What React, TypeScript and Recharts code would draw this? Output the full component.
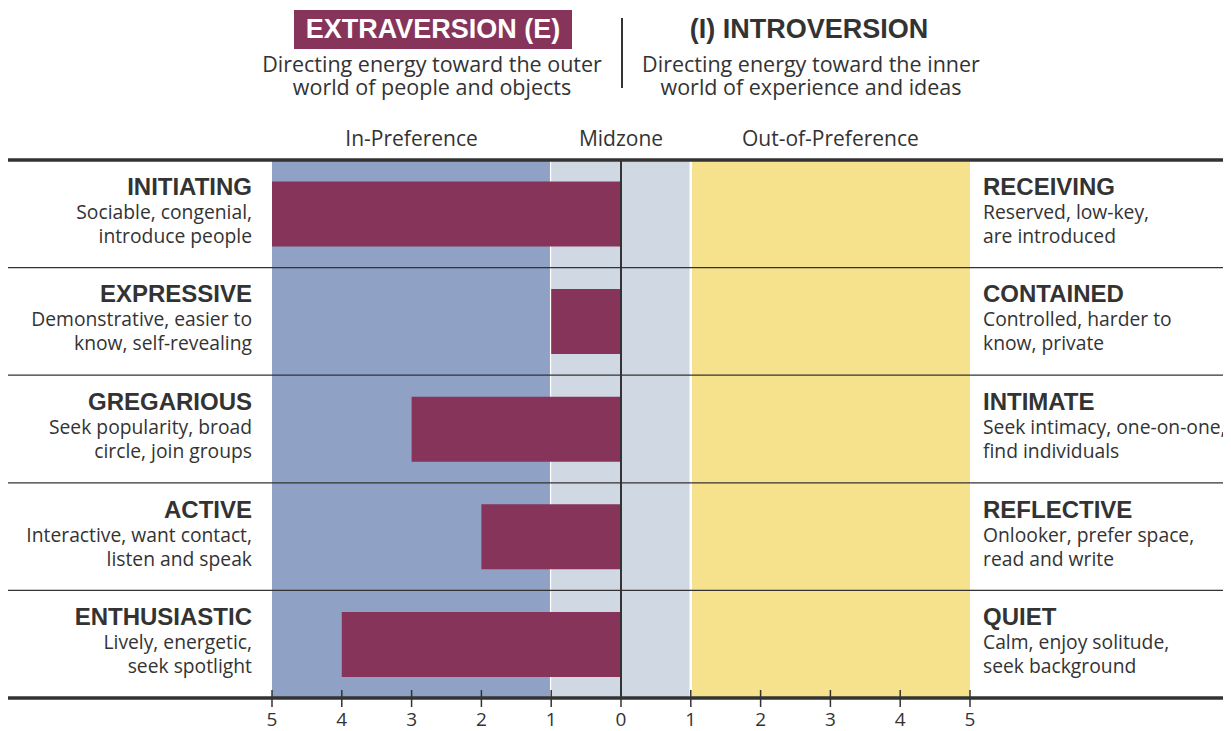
import { BarChart, Bar, XAxis, YAxis, ReferenceArea, ReferenceLine } from 'recharts'

const categories = ['initiating', 'expressive', 'gregarious', 'active', 'enthusiastic']
const leftTitles = ['INITIATING', 'EXPRESSIVE', 'GREGARIOUS', 'ACTIVE', 'ENTHUSIASTIC']
const leftLines = [
  ['Sociable, congenial,', 'introduce people'],
  ['Demonstrative, easier to', 'know, self-revealing'],
  ['Seek popularity, broad', 'circle, join groups'],
  ['Interactive, want contact,', 'listen and speak'],
  ['Lively, energetic,', 'seek spotlight'],
]
const rightTitles = ['RECEIVING', 'CONTAINED', 'INTIMATE', 'REFLECTIVE', 'QUIET']
const rightLines = [
  ['Reserved, low-key,', 'are introduced'],
  ['Controlled, harder to', 'know, private'],
  ['Seek intimacy, one-on-one,', 'find individuals'],
  ['Onlooker, prefer space,', 'read and write'],
  ['Calm, enjoy solitude,', 'seek background'],
]
// negative = toward Extraversion
const scores = [-5, -1, -3, -2, -4]
const xTicks = [-5, -4, -3, -2, -1, 0, 1, 2, 3, 4, 5]
const zoneLabels = ['In-Preference', 'Midzone', 'Out-of-Preference']
const zoneBounds = [[-5, -1], [-1, 1], [1, 5]]
const zoneColors = ['#8fa1c4', '#d0d8e3', '#f6e18c']

const data = categories.map((c, i) => ({ key: c, score: scores[i] }))

const W = 1219
const H = 723
const TOP = 152
const AXIS_H = 33
const ROW_H = (H - TOP - AXIS_H) / categories.length
const TEXT = '#333333'
const BODY_FONT = '"Open Sans", "Noto Sans", sans-serif'
const HEAD_FONT = '"Liberation Sans", Arial, sans-serif'

function RowText({ x, y, anchor, title, lines }: any) {
  return (
    <g>
      <text x={x} y={y - 19} textAnchor={anchor} fill={TEXT} fontFamily={HEAD_FONT} fontWeight="bold" fontSize={24}>
        {title}
      </text>
      <text x={x} y={y + 5} textAnchor={anchor} fill={TEXT} fontFamily={BODY_FONT} fontSize={19.3}>
        {lines[0]}
      </text>
      <text x={x} y={y + 29} textAnchor={anchor} fill={TEXT} fontFamily={BODY_FONT} fontSize={19.3}>
        {lines[1]}
      </text>
    </g>
  )
}

function LeftTick(props: any) {
  const { y, index } = props
  const last = index === categories.length - 1
  return (
    <g>
      {index === 0 && <line x1={0} x2={W} y1={y - ROW_H / 2} y2={y - ROW_H / 2} stroke={TEXT} strokeWidth={3.5} />}
      <line x1={0} x2={W} y1={y + ROW_H / 2} y2={y + ROW_H / 2} stroke={TEXT} strokeWidth={last ? 3.5 : 1.2} />
      <RowText x={244} y={y} anchor="end" title={leftTitles[index]} lines={leftLines[index]} />
    </g>
  )
}

function RightTick(props: any) {
  const { y, index } = props
  return <RowText x={975} y={y} anchor="start" title={rightTitles[index]} lines={rightLines[index]} />
}

function BottomTick(props: any) {
  const { x, y, payload } = props
  return (
    <g>
      <line x1={x} x2={x} y1={y - 8} y2={y + 9} stroke={TEXT} strokeWidth={1.5} />
      <text x={x} y={y + 28} textAnchor="middle" fill={TEXT} fontFamily={BODY_FONT} fontSize={19}>
        {Math.abs(payload.value)}
      </text>
    </g>
  )
}

// zone rectangle with a white divider on its inner edge(s)
function ZoneShape(props: any) {
  const { x, y, width, height, fill, index } = props
  return (
    <g>
      <rect x={x} y={y} width={width} height={height} fill={fill} />
      {index === 0 && <line x1={x + width} x2={x + width} y1={y} y2={y + height} stroke="#fff" strokeWidth={2.5} />}
      {index === 2 && <line x1={x} x2={x} y1={y} y2={y + height} stroke="#fff" strokeWidth={2.5} />}
    </g>
  )
}

export default function App() {
  return (
    <div style={{ position: 'relative', width: W, height: H, color: TEXT }}>
      <div
        style={{
          position: 'absolute', left: 286, top: 2, width: 278, height: 39, background: '#86345a',
          color: '#fff', fontFamily: HEAD_FONT, fontWeight: 'bold', fontSize: 27, lineHeight: '39px', textAlign: 'center',
        }}
      >
        EXTRAVERSION (E)
      </div>
      <div
        style={{
          position: 'absolute', left: 601, top: 2, width: 400, height: 39, fontFamily: HEAD_FONT,
          fontWeight: 'bold', fontSize: 27, lineHeight: '39px', textAlign: 'center',
        }}
      >
        (I) INTROVERSION
      </div>
      <div style={{ position: 'absolute', left: 613, top: 10, width: 2, height: 70, background: TEXT }} />
      <div
        style={{
          position: 'absolute', left: 224, top: 44, width: 400, fontFamily: BODY_FONT, fontSize: 21.5,
          lineHeight: '23px', textAlign: 'center',
        }}
      >
        Directing energy toward the outer
        <br />
        world of people and objects
      </div>
      <div
        style={{
          position: 'absolute', left: 603, top: 44, width: 400, fontFamily: BODY_FONT, fontSize: 21.5,
          lineHeight: '23px', textAlign: 'center',
        }}
      >
        Directing energy toward the inner
        <br />
        world of experience and ideas
      </div>
      <div style={{ position: 'absolute', left: 0, top: 0 }}>
        <BarChart width={W} height={H} data={data} layout="vertical" barCategoryGap="20%"
          margin={{ top: TOP, right: 0, bottom: 0, left: 0 }}>
          {zoneLabels.map((z, i) => (
            <ReferenceArea key={z} x1={zoneBounds[i][0]} x2={zoneBounds[i][1]} fill={zoneColors[i]} fillOpacity={1}
              stroke="none" ifOverflow="visible" shape={(p: any) => <ZoneShape {...p} index={i} />}
              label={{ value: z, position: 'top', offset: 14, fill: TEXT, fontSize: 21, fontFamily: BODY_FONT }} />
          ))}
          <Bar dataKey="score" fill="#86345a" isAnimationActive={false} />
          <ReferenceLine x={0} stroke={TEXT} strokeWidth={2} />
          <XAxis type="number" domain={[-5, 5]} ticks={xTicks} height={AXIS_H} axisLine={false}
            tickLine={false} tickSize={0} tickMargin={0} tick={<BottomTick />} interval={0} />
          <YAxis type="category" dataKey="key" width={264} axisLine={false} tickLine={false}
            tick={<LeftTick />} interval={0} />
          <YAxis yAxisId="right" orientation="right" type="category" dataKey="key" width={257}
            axisLine={false} tickLine={false} tick={<RightTick />} interval={0} />
        </BarChart>
      </div>
    </div>
  )
}
